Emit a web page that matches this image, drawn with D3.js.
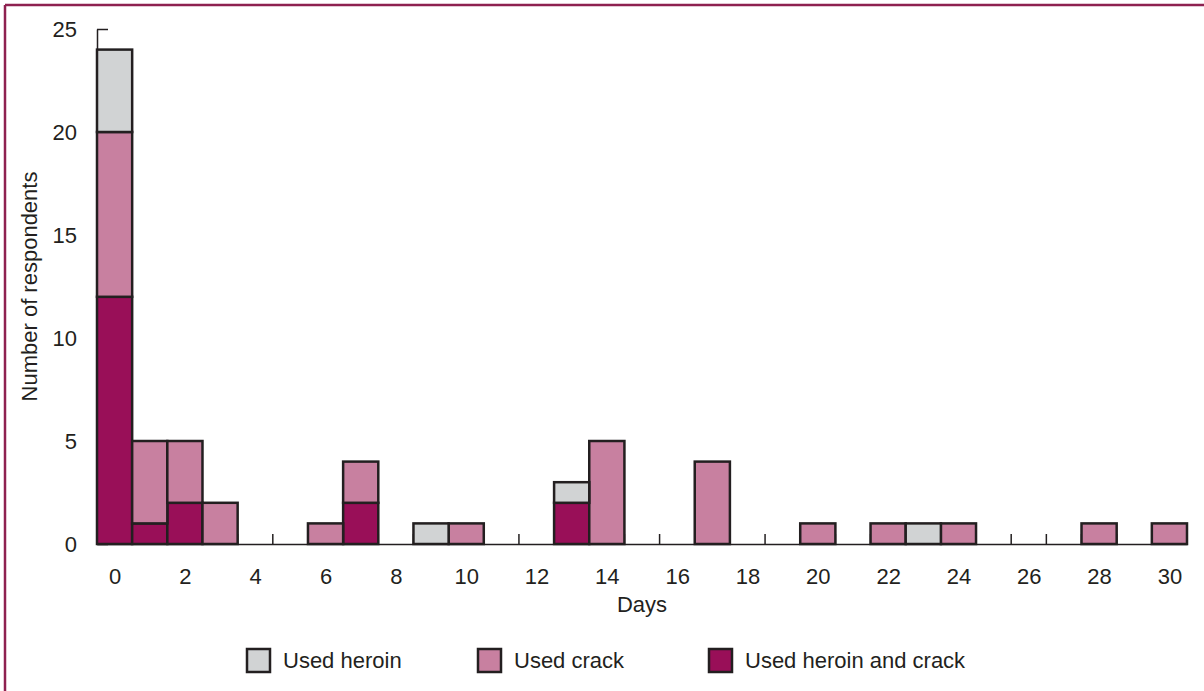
<!DOCTYPE html>
<html>
<head>
<meta charset="utf-8">
<script src="https://cdn.jsdelivr.net/npm/d3@7"></script>
<style>
  body { margin: 0; background: #fff; }
  svg text { font-family: "Liberation Sans", Arial, sans-serif; fill: #231f20; }
</style>
</head>
<body>
<div class="main-container"></div>
<script>
// days with at least one respondent, and counts per group
const days        = [0, 1, 2, 3, 6, 7, 9, 10, 13, 14, 17, 20, 22, 23, 24, 28, 30];
const heroinCrack = [12, 1, 2, 0, 0, 2, 0, 0, 2, 0, 0, 0, 0, 0, 0, 0, 0];
const crackOnly   = [8, 4, 3, 2, 1, 2, 0, 1, 0, 5, 4, 1, 1, 0, 1, 1, 1];
const heroinOnly  = [4, 0, 0, 0, 0, 0, 1, 0, 1, 0, 0, 0, 0, 1, 0, 0, 0];
const seriesKeys   = ["both", "crack", "heroin"];
const seriesLabels = ["Used heroin", "Used crack", "Used heroin and crack"];
const yTicks = [0, 5, 10, 15, 20, 25];
const xTicks = [0, 2, 4, 6, 8, 10, 12, 14, 16, 18, 20, 22, 24, 26, 28, 30];

const colors = {heroin: "#d1d3d4", crack: "#c880a0", both: "#990f58"};
const ink = "#231f20";

let width = 1204, height = 691;
let plot = {left: 97, right: 1187, top: 29, bottom: 544};

const svg = d3.select(".main-container")
  .append("svg")
  .attr("width", width)
  .attr("height", height);

// frame (top and left edges show in the picture)
svg.append("line").attr("x1", 5).attr("x2", width).attr("y1", 5).attr("y2", 5)
  .attr("stroke", "#8e2150").attr("stroke-width", 2.5);
svg.append("line").attr("x1", 5).attr("x2", 5).attr("y1", 5).attr("y2", height)
  .attr("stroke", "#8e2150").attr("stroke-width", 2.5);

let x = d3.scaleLinear()
  .domain([-0.5, 30.5])
  .range([plot.left, plot.right]);

let y = d3.scaleLinear()
  .domain([0, 25])
  .range([plot.bottom, plot.top]);

const rows = days.map((d, i) => ({
  day: d, both: heroinCrack[i], crack: crackOnly[i], heroin: heroinOnly[i]
}));
const stacked = d3.stack().keys(seriesKeys)(rows);

// x tick marks at bin edges
svg.append("g")
  .selectAll("line")
  .data(d3.range(0.5, 30, 1))
  .join("line")
  .attr("x1", d => x(d)).attr("x2", d => x(d))
  .attr("y1", y(0)).attr("y2", y(0) - 10)
  .attr("stroke", ink).attr("stroke-width", 1.5);

// x axis line + labels
const xAxis = svg.append("g")
  .attr("transform", `translate(0,${y(0)})`)
  .call(d3.axisBottom(x).tickValues(xTicks).tickSize(0).tickPadding(24).tickFormat(d3.format("d")));
xAxis.select(".domain").attr("stroke", ink).attr("stroke-width", 1.5);
xAxis.selectAll("text").style("font-size", "22px");

// y axis
const yAxis = svg.append("g")
  .attr("transform", `translate(${plot.left},0)`)
  .call(d3.axisLeft(y).tickValues(yTicks).tickSizeInner(-11).tickSizeOuter(0).tickPadding(20));
yAxis.select(".domain").attr("stroke", ink).attr("stroke-width", 1.5);
yAxis.selectAll(".tick line").attr("stroke", ink).attr("stroke-width", 1.5);
yAxis.selectAll("text").style("font-size", "22px");

// stacked bars
svg.append("g")
  .selectAll("g")
  .data(stacked)
  .join("g")
  .attr("fill", s => colors[s.key])
  .selectAll("rect")
  .data(s => s.filter(d => d[1] > d[0]))
  .join("rect")
  .attr("x", d => x(d.data.day - 0.5))
  .attr("width", d => x(d.data.day + 0.5) - x(d.data.day - 0.5))
  .attr("y", d => y(d[1]))
  .attr("height", d => y(d[0]) - y(d[1]))
  .attr("stroke", ink)
  .attr("stroke-width", 2.5);

// axis titles
svg.append("text")
  .attr("x", (plot.left + plot.right) / 2)
  .attr("y", 612)
  .attr("text-anchor", "middle")
  .style("font-size", "22px")
  .text("Days");

svg.append("text")
  .attr("transform", `translate(37,${(plot.top + plot.bottom) / 2}) rotate(-90)`)
  .attr("text-anchor", "middle")
  .style("font-size", "22px")
  .text("Number of respondents");

// legend
const legendX = [247, 478, 709];
const legendKeys = ["heroin", "crack", "both"];
const legend = svg.append("g")
  .selectAll("g")
  .data(legendKeys)
  .join("g")
  .attr("transform", (k, i) => `translate(${legendX[i]},649)`);
legend.append("rect")
  .attr("width", 23).attr("height", 23)
  .attr("fill", k => colors[k])
  .attr("stroke", ink).attr("stroke-width", 2.5);
legend.append("text")
  .attr("x", 36).attr("y", 19)
  .style("font-size", "22px")
  .text((k, i) => seriesLabels[i]);
</script>
</body>
</html>
